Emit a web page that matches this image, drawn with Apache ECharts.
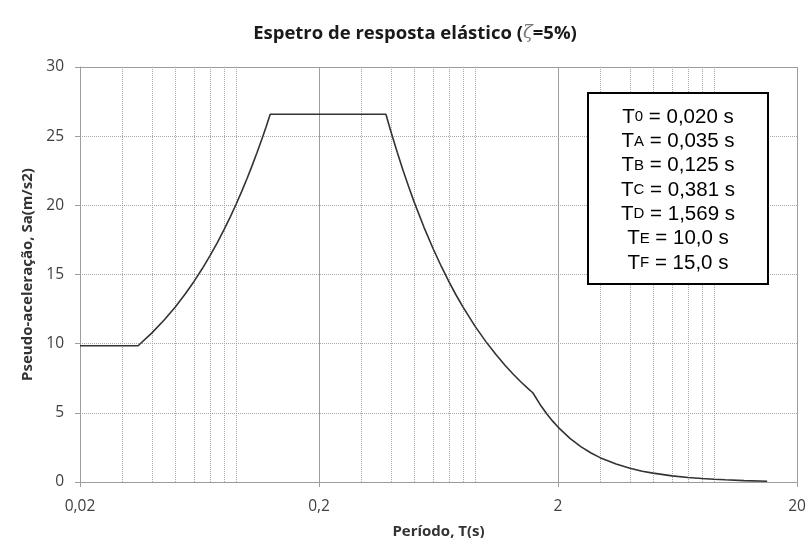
<!DOCTYPE html>
<html><head><meta charset="utf-8">
<script src="https://cdn.jsdelivr.net/npm/echarts@6/dist/echarts.min.js"></script>
<style>html,body{margin:0;padding:0;background:#fff}#c{width:809px;height:538px}</style>
</head><body><div id="c"></div>
<script>
// Period T (s) and pseudo-acceleration Sa (m/s2)
const periods = [0.02, 0.035, 0.04, 0.045, 0.05, 0.055, 0.06, 0.065, 0.07, 0.075, 0.08, 0.085, 0.09, 0.095, 0.1,
  0.105, 0.11, 0.115, 0.12, 0.125, 0.2, 0.3, 0.381, 0.4, 0.425, 0.45, 0.475, 0.5, 0.55, 0.6, 0.65, 0.7, 0.75, 0.8,
  0.9, 1.0, 1.1, 1.2, 1.3, 1.4, 1.5, 1.569, 1.7, 1.8, 1.9, 2.0, 2.25, 2.5, 2.75, 3.0, 3.5, 4.0, 4.5, 5.0, 6.0, 7.0,
  8.0, 9.0, 10.0, 12.0, 15.0];
const accel = [9.85, 9.85, 10.78, 11.71, 12.64, 13.57, 14.50, 15.43, 16.36, 17.29, 18.22, 19.15, 20.08, 21.01, 21.94,
  22.87, 23.80, 24.72, 25.65, 26.58, 26.58, 26.58, 26.58, 25.32, 23.83, 22.50, 21.32, 20.25, 18.41, 16.88, 15.58, 14.47, 13.50, 12.66,
  11.25, 10.13, 9.21, 8.44, 7.79, 7.23, 6.75, 6.45, 5.49, 4.90, 4.40, 3.97, 3.14, 2.54, 2.10, 1.76, 1.30, 0.99, 0.78, 0.64, 0.44, 0.32,
  0.25, 0.20, 0.16, 0.10, 0.05];

const xTickValues = [0.02, 0.2, 2, 20];
const xTickLabels = ['0,02', '0,2', '2', '20'];
const xMinorLines = [0.03, 0.04, 0.05, 0.06, 0.07, 0.08, 0.09, 0.3, 0.4, 0.5, 0.6, 0.7, 0.8, 0.9, 3, 4, 5, 6, 7, 8, 9];

const paramSubs = ['0', 'A', 'B', 'C', 'D', 'E', 'F'];
const paramValues = ['0,020', '0,035', '0,125', '0,381', '1,569', '10,0', '15,0'];

const titleText = 'Espetro de resposta elástico (';
const xName = 'Período, T(s)';
const yName = 'Pseudo-aceleração, Sa(m/s2)';

const solidGrid = '#9d9d9d';
const dotGrid = '#a8a8a8';
const labelColor = '#404040';

const curveData = periods.map((t, i) => [t, accel[i]]);

const gridLines = [];
xMinorLines.forEach(v => gridLines.push({xAxis: v, lineStyle: {type: 'dotted', color: dotGrid, width: 1}, label: {show: false}}));
xTickValues.forEach((v, i) => gridLines.push({
  xAxis: v, name: xTickLabels[i],
  lineStyle: {type: 'solid', color: solidGrid, width: 1},
  label: {show: true, position: 'start', distance: 17, formatter: '{b}', color: labelColor, fontSize: 15.5, fontFamily: 'Open Sans'}
}));
gridLines.push({yAxis: 30, lineStyle: {type: 'solid', color: solidGrid, width: 1}, label: {show: false}});

const boxText = paramSubs.map((s, i) => '{m|T}{s|' + s + '}{m| = ' + paramValues[i] + ' s}').join('\n');

const chart = echarts.init(document.getElementById('c'), null, {renderer: 'canvas'});
chart.setOption({
  animation: false,
  backgroundColor: '#fff',
  title: {
    text: titleText + '{z|ζ}=5%)',
    left: 410, top: 19, textAlign: 'center',
    textStyle: {
      fontFamily: 'Open Sans', fontWeight: 'bold', fontSize: 18.5, color: '#1a1a1a',
      rich: {z: {fontFamily: 'DejaVu Serif', fontStyle: 'italic', fontWeight: 'normal', fontSize: 18, color: '#777'}}
    }
  },
  grid: {left: 80, right: 12, top: 67, bottom: 56, containLabel: false, outerBoundsMode: 'none'},
  xAxis: {
    type: 'log', logBase: 10, min: 0.02, max: 20,
    name: xName, nameLocation: 'middle', nameGap: 42,
    nameTextStyle: {fontFamily: 'Open Sans', fontWeight: 'bold', fontSize: 15, color: '#333'},
    axisLine: {show: true, lineStyle: {color: solidGrid, width: 1}},
    axisTick: {show: true, customValues: xTickValues, length: 5, lineStyle: {color: solidGrid}},
    axisLabel: {show: false},
    splitLine: {show: false}, minorSplitLine: {show: false}
  },
  yAxis: {
    type: 'value', min: 0, max: 30, interval: 5,
    name: yName, nameLocation: 'middle', nameGap: 34,
    nameTextStyle: {fontFamily: 'Open Sans', fontWeight: 'bold', fontSize: 15, color: '#333'},
    axisLine: {show: true, lineStyle: {color: solidGrid, width: 1}},
    axisTick: {show: true, length: 5, lineStyle: {color: solidGrid}},
    axisLabel: {margin: 16, fontFamily: 'Open Sans', fontSize: 15.5, color: labelColor},
    splitLine: {show: true, lineStyle: {type: 'dotted', color: dotGrid, width: 1}}
  },
  series: [
    {
      type: 'line', data: [], z: 1, silent: true,
      markLine: {silent: true, symbol: ['none', 'none'], animation: false, data: gridLines}
    },
    {
      type: 'line', data: curveData, z: 5, showSymbol: false, smooth: false,
      lineStyle: {color: '#333', width: 1.6}
    }
  ],
  graphic: [
    {type: 'rect', z: 100, shape: {x: 588, y: 93, width: 180, height: 191},
     style: {fill: '#fff', stroke: '#000', lineWidth: 2}},
    {type: 'text', z: 101, x: 678, y: 105,
     style: {
       text: boxText, align: 'center', verticalAlign: 'top', fill: '#000',
       fontFamily: 'Liberation Sans', fontSize: 20.5, lineHeight: 24.3,
       rich: {
         m: {fontFamily: 'Liberation Sans', fontSize: 20.5, lineHeight: 24.3, fill: '#000'},
         s: {fontFamily: 'Liberation Sans', fontSize: 15, lineHeight: 24.3, verticalAlign: 'middle', fill: '#000'}
       }
     }}
  ]
});
</script>
</body></html>
